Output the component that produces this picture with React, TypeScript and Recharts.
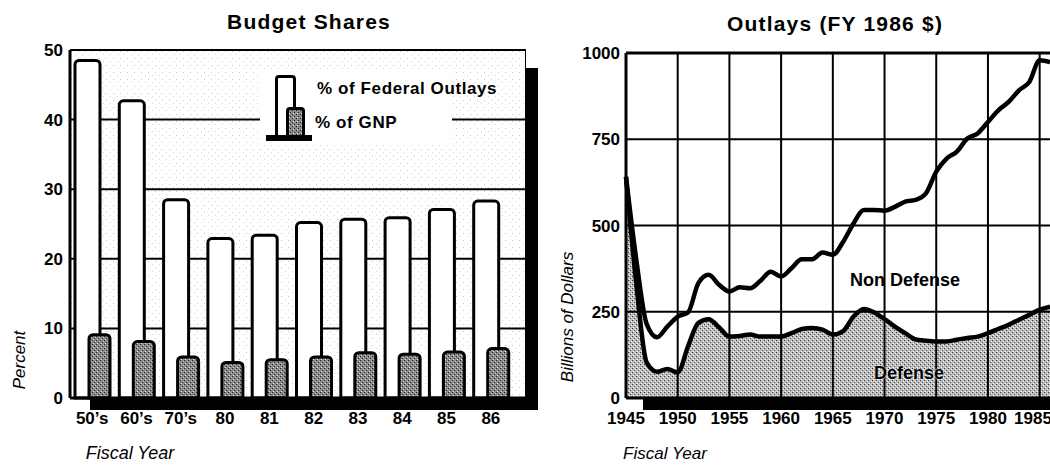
import { Area, Bar, BarChart, CartesianGrid, ComposedChart, Line, ReferenceLine, XAxis, YAxis } from 'recharts';

// Budget shares (left panel)
const shareCategories = ['50’s', '60’s', '70’s', '80', '81', '82', '83', '84', '85', '86'];
const federalOutlaysPct = [48.5, 42.7, 28.5, 22.9, 23.4, 25.2, 25.7, 25.9, 27.1, 28.3];
const gnpPct = [9.1, 8.1, 5.9, 5.1, 5.5, 5.9, 6.5, 6.3, 6.6, 7.1];
const percentTicks = [0, 10, 20, 30, 40, 50];

// Outlays in FY 1986 dollars, billions (right panel)
const fiscalYears = [
  1945, 1946, 1947, 1948, 1949, 1950, 1951, 1952, 1953, 1954, 1955, 1956, 1957, 1958,
  1959, 1960, 1961, 1962, 1963, 1964, 1965, 1966, 1967, 1968, 1969, 1970, 1971, 1972,
  1973, 1974, 1975, 1976, 1977, 1978, 1979, 1980, 1981, 1982, 1983, 1984, 1985, 1986,
];
const totalOutlays = [
  641, 400, 214, 176, 207, 236, 248, 333, 357, 328, 309, 321, 318, 340,
  366, 352, 376, 402, 402, 422, 415, 453, 506, 545, 545, 543, 554, 569,
  574, 593, 656, 694, 714, 752, 767, 800, 834, 858, 892, 916, 979, 974,
];
const defenseOutlays = [
  641, 330, 103, 76, 84, 74, 150, 218, 228, 205, 178, 180, 184, 178,
  178, 178, 188, 200, 203, 198, 184, 194, 236, 258, 248, 229, 207, 188,
  170, 166, 164, 164, 169, 174, 178, 188, 200, 212, 227, 241, 256, 265,
];
const yearTicks = [1945, 1950, 1955, 1960, 1965, 1970, 1975, 1980, 1985];
const dollarTicks = [0, 250, 500, 750, 1000];

const FONT = '"Liberation Sans", Arial, Helvetica, sans-serif';
const tickStyle = { fill: '#000', fontSize: 17, fontWeight: 700, fontFamily: FONT };
const axisStroke = { stroke: '#000', strokeWidth: 3 };

const shareRows = shareCategories.map((cat, i) => ({
  cat,
  federal: federalOutlaysPct[i],
  gnp: gnpPct[i],
}));

const outlayRows = fiscalYears.map((year, i) => ({
  year,
  total: totalOutlays[i],
  defense: defenseOutlays[i],
}));

function Caption({ x, y, text, size = 17, bold = false, italic = false, rotate = false, spacing = 0, shadow = false }: {
  x: number; y: number; text: string; size?: number; bold?: boolean; italic?: boolean; rotate?: boolean; spacing?: number; shadow?: boolean;
}) {
  return (
    <div
      style={{
        position: 'absolute',
        left: x,
        top: y,
        transform: `translate(-50%, -50%)${rotate ? ' rotate(-90deg)' : ''}`,
        whiteSpace: 'nowrap',
        fontFamily: FONT,
        fontSize: size,
        fontWeight: bold ? 700 : 400,
        fontStyle: italic ? 'italic' : 'normal',
        letterSpacing: spacing,
        lineHeight: 1,
        color: '#000',
        textShadow: shadow ? '0 0 2px #fff, 0 0 1px #fff' : undefined,
      }}
    >
      {text}
    </div>
  );
}

function ShareLegend() {
  const label = { position: 'absolute' as const, fontFamily: FONT, fontSize: 17, fontWeight: 700, letterSpacing: 0.6, whiteSpace: 'nowrap' as const };
  return (
    <div style={{ position: 'absolute', left: 260, top: 70, width: 192, height: 74, background: '#fff' }}>
      <svg width={60} height={74} style={{ position: 'absolute', left: 0, top: 0 }}>
        <defs>
          <pattern id="legendGnp" width={4} height={4} patternUnits="userSpaceOnUse">
            <rect width={4} height={4} fill="#8a8a8a" />
            <rect x={0} y={0} width={1} height={1} fill="#222" />
            <rect x={2} y={2} width={1} height={1} fill="#222" />
            <rect x={1} y={3} width={1} height={1} fill="#e0e0e0" />
          </pattern>
        </defs>
        <path d="M16.5,67 V9 Q16.5,6.5 19,6.5 H32 Q34.5,6.5 34.5,9 V67" fill="#fff" stroke="#000" strokeWidth={3} />
        <path d="M27.5,67 V41 Q27.5,38.5 30,38.5 H41 Q43.5,38.5 43.5,41 V67" fill="url(#legendGnp)" stroke="#000" strokeWidth={3} />
        <rect x={6} y={65} width={46} height={6} fill="#000" />
      </svg>
      <div style={{ ...label, left: 57, top: 9 }}>% of Federal Outlays</div>
      <div style={{ ...label, left: 55, top: 43 }}>% of GNP</div>
    </div>
  );
}

function BudgetShares() {
  return (
    <div style={{ position: 'absolute', left: 0, top: 0, width: 540, height: 467 }}>
      <BarChart
        width={540}
        height={467}
        data={shareRows}
        margin={{ top: 50, right: 15, bottom: 39, left: 0 }}
        barGap={-11}
      >
        <defs>
          <pattern id="bgDots" width={7} height={7} patternUnits="userSpaceOnUse">
            <rect width={7} height={7} fill="#fff" />
            <rect x={1} y={2} width={1} height={1} fill="#c8c8c8" />
            <rect x={5} y={5} width={1} height={1} fill="#d4d4d4" />
          </pattern>
          <pattern id="gnpFill" width={4} height={4} patternUnits="userSpaceOnUse">
            <rect width={4} height={4} fill="#8a8a8a" />
            <rect x={0} y={0} width={1} height={1} fill="#222" />
            <rect x={2} y={2} width={1} height={1} fill="#222" />
            <rect x={1} y={3} width={1} height={1} fill="#e0e0e0" />
            <rect x={3} y={1} width={1} height={1} fill="#bbb" />
          </pattern>
        </defs>
        <CartesianGrid horizontal vertical={false} stroke="#000" strokeWidth={2} fill="url(#bgDots)" fillOpacity={1} />
        <XAxis
          dataKey="cat"
          interval={0}
          height={30}
          tickSize={0}
          tickMargin={14}
          padding={{ left: 0, right: 12 }}
          axisLine={axisStroke}
          tick={tickStyle}
        />
        <YAxis
          domain={[0, 50]}
          ticks={percentTicks}
          width={70}
          tickSize={0}
          tickMargin={7}
          axisLine={axisStroke}
          tick={tickStyle}
        />
        <Bar dataKey="federal" barSize={25} fill="#fff" stroke="#000" strokeWidth={3} radius={[4, 4, 0, 0]} isAnimationActive={false} />
        <Bar dataKey="gnp" barSize={21} fill="url(#gnpFill)" stroke="#000" strokeWidth={3} radius={[4, 4, 0, 0]} isAnimationActive={false} />
      </BarChart>
    </div>
  );
}

function Outlays() {
  return (
    <div style={{ position: 'absolute', left: 540, top: 0, width: 510, height: 467 }}>
      <ComposedChart width={510} height={467} data={outlayRows} margin={{ top: 53, right: 0, bottom: 39, left: 0 }}>
        <defs>
          <pattern id="defFill" width={4} height={4} patternUnits="userSpaceOnUse">
            <rect width={4} height={4} fill="#bdbdbd" />
            <rect x={0} y={0} width={1} height={1} fill="#333" />
            <rect x={2} y={2} width={1} height={1} fill="#555" />
            <rect x={1} y={3} width={1} height={1} fill="#fff" />
            <rect x={3} y={1} width={1} height={1} fill="#eee" />
          </pattern>
        </defs>
        <XAxis
          dataKey="year"
          type="number"
          domain={[1945, 1986]}
          ticks={yearTicks}
          height={30}
          tickSize={0}
          tickMargin={14}
          axisLine={axisStroke}
          tick={tickStyle}
        />
        <YAxis
          domain={[0, 1000]}
          ticks={dollarTicks}
          width={86}
          tickSize={0}
          tickMargin={6}
          axisLine={axisStroke}
          tick={tickStyle}
        />
        <Area
          type="monotone"
          dataKey="defense"
          fill="url(#defFill)"
          fillOpacity={1}
          stroke="#000"
          strokeWidth={4.5}
          isAnimationActive={false}
        />
        {yearTicks.slice(1).map((yr) => (
          <ReferenceLine key={`v${yr}`} x={yr} stroke="#000" strokeWidth={2} />
        ))}
        {dollarTicks.slice(1).map((v) => (
          <ReferenceLine key={`h${v}`} y={v} stroke="#000" strokeWidth={v === 1000 ? 3 : 2} />
        ))}
        <Line type="monotone" dataKey="total" stroke="#000" strokeWidth={4.5} dot={false} isAnimationActive={false} />
      </ComposedChart>
    </div>
  );
}

export default function App() {
  return (
    <div style={{ position: 'absolute', left: 0, top: 0, width: 1050, height: 467, overflow: 'hidden', background: '#fff' }}>
      {/* drop shadows behind the two plot frames */}
      <div style={{ position: 'absolute', left: 90, top: 397, width: 448, height: 13, background: '#000' }} />
      <div style={{ position: 'absolute', left: 525, top: 68, width: 13, height: 342, background: '#000' }} />
      <div style={{ position: 'absolute', left: 523, top: 49, width: 3, height: 20, background: '#000' }} />
      <div style={{ position: 'absolute', left: 643, top: 397, width: 420, height: 13, background: '#000' }} />

      <BudgetShares />
      <Outlays />
      <ShareLegend />

      <Caption x={309} y={21} text="Budget Shares" size={21} spacing={1.2} bold />
      <Caption x={835} y={23} text="Outlays (FY 1986 $)" size={21} spacing={1.2} bold />
      <Caption x={19} y={360} text="Percent" size={17} italic rotate />
      <Caption x={567} y={317} text="Billions of Dollars" size={17} italic rotate />
      <Caption x={130} y={453} text="Fiscal Year" size={18} italic />
      <Caption x={665} y={453} text="Fiscal Year" size={17} italic />
      <Caption x={905} y={280} text="Non Defense" size={18} bold />
      <Caption x={909} y={373} text="Defense" size={18} bold shadow />
    </div>
  );
}
